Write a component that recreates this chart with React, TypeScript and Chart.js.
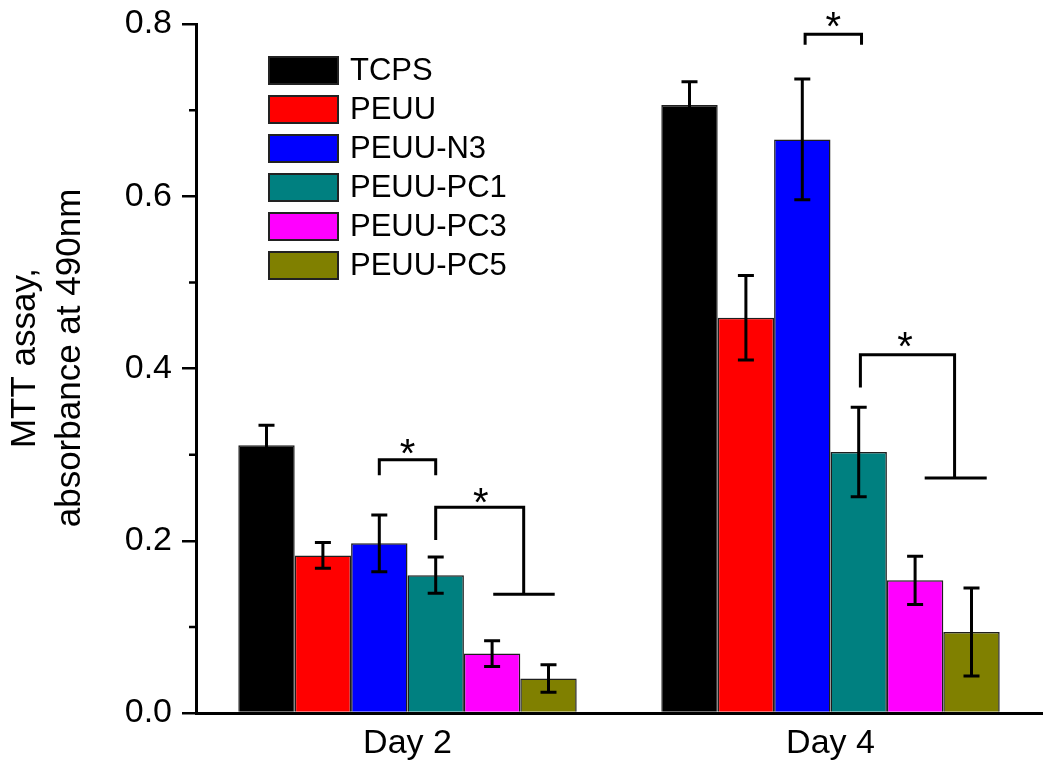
import React, { useEffect, useRef } from 'react';
import { Chart, registerables } from 'chart.js';

Chart.register(...registerables);

const FONT = "'Liberation Sans', Arial, Helvetica, sans-serif";

const CATEGORIES = ['Day 2', 'Day 4'];
const SERIES_LABELS = ['TCPS', 'PEUU', 'PEUU-N3', 'PEUU-PC1', 'PEUU-PC3', 'PEUU-PC5'];
const SERIES_COLORS = ['#000000', '#FF0000', '#0000FF', '#008080', '#FF00FF', '#808000'];

// mean absorbance values (Day 2, Day 4)
const TCPS_MEAN = [0.311, 0.706];
const PEUU_MEAN = [0.183, 0.459];
const PEUU_N3_MEAN = [0.197, 0.666];
const PEUU_PC1_MEAN = [0.160, 0.303];
const PEUU_PC3_MEAN = [0.069, 0.154];
const PEUU_PC5_MEAN = [0.040, 0.094];

// error (± half-length) values (Day 2, Day 4)
const TCPS_ERR = [0.023, 0.027];
const PEUU_ERR = [0.015, 0.049];
const PEUU_N3_ERR = [0.033, 0.070];
const PEUU_PC1_ERR = [0.021, 0.052];
const PEUU_PC3_ERR = [0.015, 0.028];
const PEUU_PC5_ERR = [0.016, 0.051];

const MEANS = [TCPS_MEAN, PEUU_MEAN, PEUU_N3_MEAN, PEUU_PC1_MEAN, PEUU_PC3_MEAN, PEUU_PC5_MEAN];
const ERRORS = [TCPS_ERR, PEUU_ERR, PEUU_N3_ERR, PEUU_PC1_ERR, PEUU_PC3_ERR, PEUU_PC5_ERR];

const Y_TICKS = [0, 0.2, 0.4, 0.6, 0.8];
const Y_MINOR_TICKS = [0.1, 0.3, 0.5, 0.7];
const Y_TITLE = ['MTT assay,', 'absorbance at 490nm'];

// significance brackets: x in bar-index units within a group, y in data units
const BRACKET_GROUPS = [0, 0, 1, 1];
const BRACKET_PATHS = [
  [[2, 0.276], [2, 0.294], [3, 0.294], [3, 0.276]],
  [[3, 0.201], [3, 0.239], [4.56, 0.239], [4.56, 0.138]],
  [[2.05, 0.776], [2.05, 0.788], [3.05, 0.788], [3.05, 0.776]],
  [[3.03, 0.378], [3.03, 0.416], [4.7, 0.416], [4.7, 0.273]],
];
const BRACKET_BASES = [
  null,
  [[4.02, 0.138], [5.11, 0.138]],
  null,
  [[4.17, 0.273], [5.27, 0.273]],
];
const BRACKET_STARS = [
  [2.5, 0.313],
  [3.8, 0.256],
  [2.55, 0.808],
  [3.82, 0.437],
];

function xAt(chart: any, group: number, pos: number) {
  const x0 = chart.getDatasetMeta(0).data[group].x;
  const x1 = chart.getDatasetMeta(1).data[group].x;
  return x0 + pos * (x1 - x0);
}

const errorBarPlugin = {
  id: 'errorBars',
  afterDatasetsDraw(chart: any) {
    const ctx = chart.ctx;
    const ys = chart.scales.y;
    ctx.save();
    ctx.strokeStyle = '#000';
    ctx.lineWidth = 3;
    chart.data.datasets.forEach((ds: any, i: number) => {
      const meta = chart.getDatasetMeta(i);
      meta.data.forEach((bar: any, j: number) => {
        const v = ds.data[j];
        const e = ds.errors[j];
        const x = bar.x;
        const yt = ys.getPixelForValue(v + e);
        const yb = ys.getPixelForValue(v - e);
        ctx.beginPath();
        ctx.moveTo(x, yt);
        ctx.lineTo(x, yb);
        ctx.moveTo(x - 8, yt);
        ctx.lineTo(x + 8, yt);
        ctx.moveTo(x - 8, yb);
        ctx.lineTo(x + 8, yb);
        ctx.stroke();
      });
    });
    ctx.restore();
  },
};

const bracketPlugin = {
  id: 'brackets',
  afterDraw(chart: any) {
    const ctx = chart.ctx;
    const ys = chart.scales.y;
    ctx.save();
    ctx.strokeStyle = '#000';
    ctx.fillStyle = '#000';
    ctx.lineWidth = 3;
    ctx.lineJoin = 'miter';
    BRACKET_PATHS.forEach((path, k) => {
      const g = BRACKET_GROUPS[k];
      ctx.beginPath();
      path.forEach(([p, v], n) => {
        const x = xAt(chart, g, p);
        const y = ys.getPixelForValue(v);
        if (n === 0) ctx.moveTo(x, y);
        else ctx.lineTo(x, y);
      });
      const base = BRACKET_BASES[k];
      if (base) {
        ctx.moveTo(xAt(chart, g, base[0][0]), ys.getPixelForValue(base[0][1]));
        ctx.lineTo(xAt(chart, g, base[1][0]), ys.getPixelForValue(base[1][1]));
      }
      ctx.stroke();
      const [sp, sv] = BRACKET_STARS[k];
      const size = 40;
      ctx.font = `${size}px ${FONT}`;
      ctx.textAlign = 'center';
      ctx.textBaseline = 'alphabetic';
      ctx.fillText('*', xAt(chart, g, sp), ys.getPixelForValue(sv) + 0.58 * size);
    });
    ctx.restore();
  },
};

const minorTickPlugin = {
  id: 'minorTicks',
  afterDraw(chart: any) {
    const ctx = chart.ctx;
    const ys = chart.scales.y;
    const left = chart.chartArea.left;
    ctx.save();
    ctx.strokeStyle = '#000';
    ctx.lineWidth = 2.5;
    ctx.beginPath();
    Y_MINOR_TICKS.forEach((v) => {
      const y = ys.getPixelForValue(v);
      ctx.moveTo(left - 7, y);
      ctx.lineTo(left, y);
    });
    ctx.stroke();
    ctx.restore();
  },
};

const yTitlePlugin = {
  id: 'yTitle',
  afterDraw(chart: any, _args: any, opts: any) {
    const ctx = chart.ctx;
    ctx.save();
    ctx.fillStyle = '#000';
    ctx.font = `${opts.fontSize}px ${FONT}`;
    ctx.textAlign = 'center';
    ctx.textBaseline = 'alphabetic';
    Y_TITLE.forEach((line, i) => {
      ctx.save();
      ctx.translate(opts.firstBaselineX + i * opts.lineGap, opts.centerY);
      ctx.rotate(-Math.PI / 2);
      ctx.fillText(line, 0, 0);
      ctx.restore();
    });
    ctx.restore();
  },
};

const boxLegendPlugin = {
  id: 'boxLegend',
  afterDraw(chart: any, _args: any, opts: any) {
    const ctx = chart.ctx;
    ctx.save();
    chart.data.datasets.forEach((ds: any, i: number) => {
      const top = opts.top + i * opts.rowHeight;
      ctx.fillStyle = ds.backgroundColor;
      ctx.fillRect(opts.left, top, opts.boxWidth, opts.boxHeight);
      ctx.strokeStyle = '#222';
      ctx.lineWidth = 2;
      ctx.strokeRect(opts.left, top, opts.boxWidth, opts.boxHeight);
      ctx.fillStyle = '#000';
      ctx.font = `${opts.fontSize}px ${FONT}`;
      ctx.textAlign = 'left';
      ctx.textBaseline = 'middle';
      ctx.fillText(ds.label, opts.left + opts.boxWidth + opts.gap, top + opts.boxHeight / 2 + 1);
    });
    ctx.restore();
  },
};

export default function App() {
  const canvasRef = useRef<HTMLCanvasElement | null>(null);

  useEffect(() => {
    if (!canvasRef.current) return;
    const datasets = SERIES_LABELS.map((label, i) => ({
      label,
      data: MEANS[i],
      errors: ERRORS[i],
      backgroundColor: SERIES_COLORS[i],
      borderColor: '#1e1e1e',
      borderWidth: 1.5,
      categoryPercentage: 0.8,
      barPercentage: 1.0,
    }));

    const chart = new Chart(canvasRef.current, {
      type: 'bar',
      data: { labels: CATEGORIES, datasets: datasets as any },
      plugins: [errorBarPlugin, bracketPlugin, minorTickPlugin, yTitlePlugin, boxLegendPlugin],
      options: {
        animation: false,
        responsive: false,
        maintainAspectRatio: false,
        layout: { padding: { left: 0, right: 8, top: 24, bottom: 0 } },
        plugins: {
          legend: { display: false },
          tooltip: { enabled: false },
          yTitle: { fontSize: 35, firstBaselineX: 35, lineGap: 45, centerY: 358 },
          boxLegend: {
            left: 269,
            top: 57,
            rowHeight: 39,
            boxWidth: 69,
            boxHeight: 27,
            gap: 12,
            fontSize: 31,
          },
        } as any,
        scales: {
          x: {
            grid: { display: false, drawTicks: false },
            border: { display: true, color: '#000', width: 3 },
            ticks: { font: { size: 34, family: FONT }, color: '#000', padding: 10 },
            afterFit: (s: any) => {
              s.height = 59;
            },
          },
          y: {
            min: 0,
            max: 0.8,
            afterBuildTicks: (s: any) => {
              s.ticks = Y_TICKS.map((v) => ({ value: v }));
            },
            ticks: {
              font: { size: 34, family: FONT, lineHeight: 0.8 },
              color: '#000',
              padding: 10,
              callback: (v: any) => Number(v).toFixed(1),
            },
            grid: {
              drawOnChartArea: false,
              drawTicks: true,
              tickLength: 14,
              lineWidth: 2.5,
              color: '#000',
            },
            border: { display: true, color: '#000', width: 3 },
            title: { display: false },
            afterFit: (s: any) => {
              s.width = 196;
            },
          },
        },
      } as any,
    });
    return () => chart.destroy();
  }, []);

  return (
    <div style={{ position: 'absolute', left: 0, top: 0, width: 1050, height: 772, background: '#fff' }}>
      <canvas ref={canvasRef} width={1050} height={772} style={{ display: 'block', width: 1050, height: 772 }} />
    </div>
  );
}
